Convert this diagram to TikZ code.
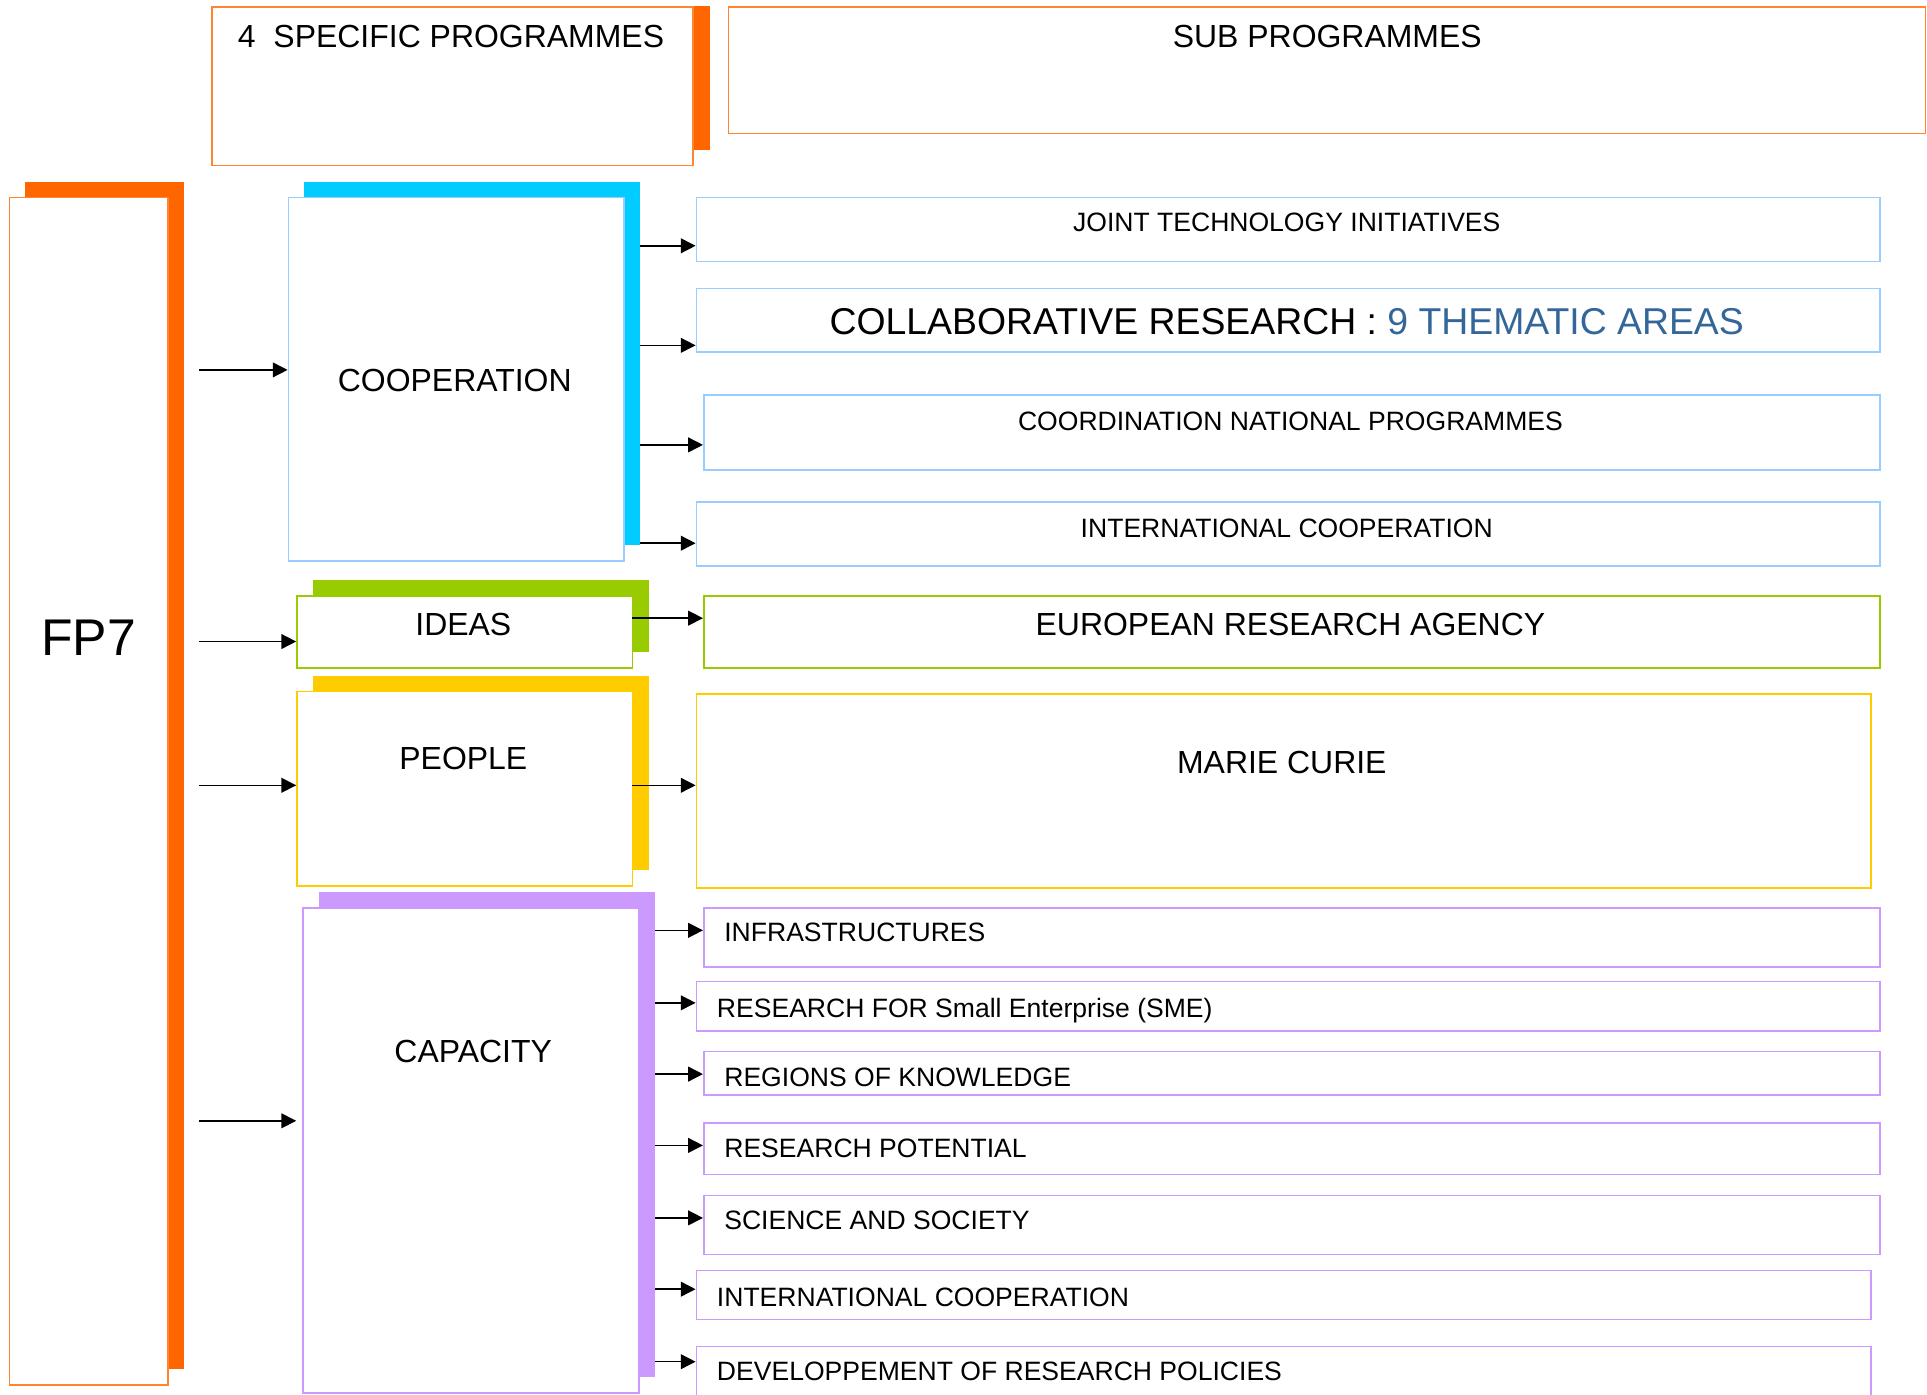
\documentclass[tikz,border=0pt]{standalone}
\usepackage{fontspec}
\setmainfont{Liberation Sans}
\usetikzlibrary{arrows.meta, positioning, shadows, backgrounds}

\definecolor{fpOrange}{HTML}{FF6600}
\definecolor{hdrOrange}{HTML}{FF8533}
\definecolor{coopCyan}{HTML}{00CCFF}
\definecolor{coopBlue}{HTML}{99CCFF}
\definecolor{ideaGreen}{HTML}{99CC00}
\definecolor{peopleYellow}{HTML}{FFCC00}
\definecolor{capaPurple}{HTML}{CC99FF}
\definecolor{themeBlue}{HTML}{336699}

\begin{document}
\begin{tikzpicture}[
    x=0.5pt, y=-0.5pt,
    prog/.style={rectangle, draw=#1, fill=white, line width=0.7pt, inner sep=0pt, anchor=north west},
    backshade/.style={general shadow={fill=#1, shadow xshift=6.5pt, shadow yshift=6.5pt}},
    progtxt/.style={inner sep=0pt, text height=9.3pt, text depth=0pt, font=\fontsize{13}{16}\selectfont},
    subtxt/.style={inner sep=0pt, text height=7.7pt, text depth=0pt, font=\fontsize{10.8}{13}\selectfont},
    arrow/.style={-{Triangle[length=6pt, width=6pt]}, line width=0.6pt},
]
\useasboundingbox (0,0) rectangle (1568,1135);

\node[prog=hdrOrange, minimum width=195.5pt, minimum height=64.5pt] (spec) at (172,5) {};
\node[progtxt] (spectxt) at (367,29) {4~~SPECIFIC PROGRAMMES};
\begin{scope}[on background layer]
\fill[fpOrange] (spec.north east) rectangle ([xshift=6.5pt, yshift=6.5pt]spec.south east);
\end{scope}
\node[prog=hdrOrange, minimum width=487pt, minimum height=51.5pt] (subp) at (592,5) {};
\node[progtxt] (subptxt) at (1080,29) {SUB PROGRAMMES};

\node[prog=hdrOrange, backshade=fpOrange, minimum width=64.5pt, minimum height=483pt] (fp7) at (7,160) {};
\node[inner sep=0pt, text height=15pt, text depth=0pt, font=\fontsize{21}{25}\selectfont] (fp7txt) at (72,518) {FP7};

\node[prog=coopBlue, backshade=coopCyan, minimum width=136.5pt, minimum height=148pt] (coop) at (234,160) {};
\node[progtxt] (cooptxt) at (370,309) {COOPERATION};
\node[prog=ideaGreen, backshade=ideaGreen, minimum width=136.5pt, minimum height=29.5pt] (ideas) at (241,484) {};
\node[progtxt] (ideastxt) at (377,508) {IDEAS};
\node[prog=peopleYellow, backshade=peopleYellow, minimum width=136.5pt, minimum height=79pt] (people) at (241,562) {};
\node[progtxt] (peopletxt) at (377,617) {PEOPLE};
\node[prog=capaPurple, backshade=capaPurple, minimum width=136.5pt, minimum height=197.5pt] (capa) at (246,738) {};
\node[progtxt] (capatxt) at (385,855) {CAPACITY};

\node[prog=coopBlue, minimum width=481.5pt, minimum height=26pt] (jti) at (566,160) {};
\node[subtxt] (jtitxt) at (1047,181) {JOINT TECHNOLOGY INITIATIVES};
\node[prog=coopBlue, minimum width=481.5pt, minimum height=26pt] (collab) at (566,234) {};
\node[inner sep=0pt, text height=10.9pt, text depth=0pt, font=\fontsize{15.2}{18}\selectfont] (collabtxt) at (1047,261) {COLLABORATIVE RESEARCH : \textcolor{themeBlue}{9 THEMATIC AREAS}};
\node[prog=coopBlue, minimum width=478.5pt, minimum height=30.5pt] (coord) at (572,321) {};
\node[subtxt] (coordtxt) at (1050,343) {COORDINATION NATIONAL PROGRAMMES};
\node[prog=coopBlue, minimum width=481.5pt, minimum height=26pt] (intl) at (566,408) {};
\node[subtxt] (intltxt) at (1047,430) {INTERNATIONAL COOPERATION};

\node[prog=ideaGreen, minimum width=478.5pt, minimum height=29.5pt] (era) at (572,484) {};
\node[progtxt] (eratxt) at (1050,508) {EUROPEAN RESEARCH AGENCY};
\node[prog=peopleYellow, minimum width=478pt, minimum height=79pt] (marie) at (566,564) {};
\node[progtxt] (marietxt) at (1043,620) {MARIE CURIE};

\node[prog=capaPurple, minimum width=478.5pt, minimum height=24pt] (infra) at (572,738) {};
\node[subtxt, anchor=west] (infratxt) at (589,758) {INFRASTRUCTURES};
\node[prog=capaPurple, minimum width=481.5pt, minimum height=20pt] (sme) at (566,798) {};
\node[subtxt, anchor=west] (smetxt) at (583,820) {RESEARCH FOR Small Enterprise (SME)};
\node[prog=capaPurple, minimum width=478.5pt, minimum height=17.5pt] (regions) at (572,855) {};
\node[subtxt, anchor=west] (regionstxt) at (589,876) {REGIONS OF KNOWLEDGE};
\node[prog=capaPurple, minimum width=478.5pt, minimum height=21pt] (potential) at (572,913) {};
\node[subtxt, anchor=west] (potentialtxt) at (589,934) {RESEARCH POTENTIAL};
\node[prog=capaPurple, minimum width=478.5pt, minimum height=24pt] (science) at (572,972) {};
\node[subtxt, anchor=west] (sciencetxt) at (589,993) {SCIENCE AND SOCIETY};
\node[prog=capaPurple, minimum width=478pt, minimum height=20pt] (intlb) at (566,1033) {};
\node[subtxt, anchor=west] (intlbtxt) at (583,1055) {INTERNATIONAL COOPERATION};
\node[prog=capaPurple, minimum width=478pt, minimum height=27.5pt] (dev) at (566,1095) {};
\node[subtxt, anchor=west] (devtxt) at (583,1116) {DEVELOPPEMENT OF RESEARCH POLICIES};

\coordinate (s1) at (162,301);
\coordinate (s2) at (162,522);
\coordinate (s3) at (162,639);
\coordinate (s4) at (162,912);
\draw[arrow] (s1) -- (s1 -| coop.west);
\draw[arrow] (s2) -- (s2 -| ideas.west);
\draw[arrow] (s3) -- (s3 -| people.west);
\draw[arrow, shorten >=2.5pt] (s4) -- (s4 -| capa.west);

\coordinate (r1) at (521,200);
\coordinate (r2) at (521,281);
\coordinate (r3) at (521,362);
\coordinate (r4) at (521,442);
\coordinate (r5) at (514,503);
\coordinate (r6) at (514,639);
\draw[arrow] (r1) -- (r1 -| jti.west);
\draw[arrow] (r2) -- (r2 -| collab.west);
\draw[arrow] (r3) -- (r3 -| coord.west);
\draw[arrow] (r4) -- (r4 -| intl.west);
\draw[arrow] (r5) -- (r5 -| era.west);
\draw[arrow] (r6) -- (r6 -| marie.west);

\coordinate (c1) at (533,757);
\coordinate (c2) at (533,816);
\coordinate (c3) at (533,874);
\coordinate (c4) at (533,932);
\coordinate (c5) at (533,991);
\coordinate (c6) at (533,1049);
\coordinate (c7) at (533,1108);
\draw[arrow] (c1) -- (c1 -| infra.west);
\draw[arrow] (c2) -- (c2 -| sme.west);
\draw[arrow] (c3) -- (c3 -| regions.west);
\draw[arrow] (c4) -- (c4 -| potential.west);
\draw[arrow] (c5) -- (c5 -| science.west);
\draw[arrow] (c6) -- (c6 -| intlb.west);
\draw[arrow] (c7) -- (c7 -| dev.west);

\end{tikzpicture}
\end{document}
